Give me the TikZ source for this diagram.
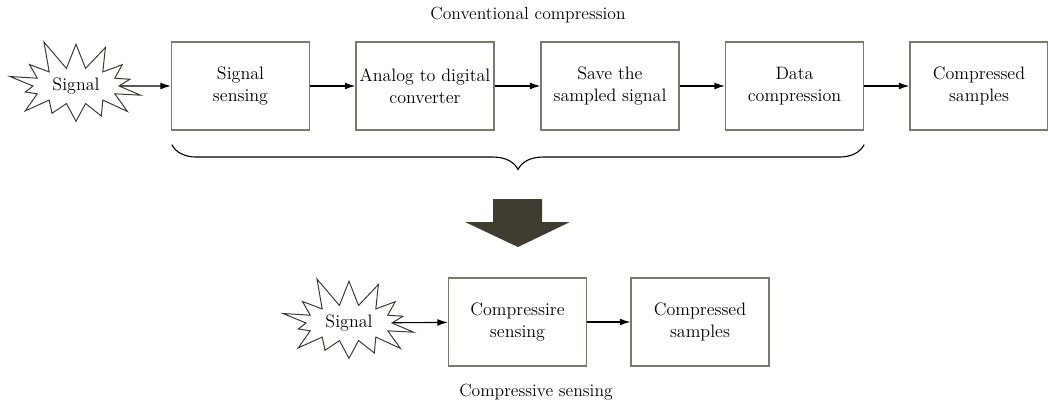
\documentclass[tikz,border=0pt]{standalone}
\usepackage{tikz}
\usetikzlibrary{positioning,arrows.meta,calc,shapes.symbols,decorations.pathreplacing}
\definecolor{boxgray}{RGB}{122,122,108}
\definecolor{burstline}{RGB}{58,58,48}
\definecolor{bigarrow}{RGB}{64,61,48}

\begin{document}
\begin{tikzpicture}[>={Latex[length=2.6mm,width=1.7mm]}, x=0.025cm, y=-0.025cm,
    blk/.style={draw=boxgray,line width=0.9pt,align=center,font=\fontsize{12.8}{15.6}\selectfont,
               minimum width=3.45cm,minimum height=2.2cm,inner sep=0pt},
    burst/.style={starburst,draw=burstline,line width=0.7pt,starburst points=14,
               starburst point height=0.8cm,random starburst=11,
               minimum width=3.75cm,minimum height=2.5cm,inner sep=0pt,
               font=\fontsize{12.8}{15.6}\selectfont},
    lbl/.style={font=\fontsize{12.5}{15}\selectfont},
    link/.style={->,line width=0.8pt}]
  \useasboundingbox (0,0) rectangle (1048,403);
  % conventional chain
  \node[lbl] (ttl) at (528,15) {Conventional compression};
  \node[burst] (sig1) at (76,86) {Signal};
  \node[blk] (b1) at (240.5,86) {Signal\\sensing};
  \node[blk] (b2) at (425,86)   {Analog to digital\\converter};
  \node[blk] (b3) at (610,86)   {Save the\\sampled signal};
  \node[blk] (b4) at (794.5,86) {Data\\compression};
  \node[blk] (b5) at (979,86)   {Compressed\\samples};
  \foreach \a/\b in {sig1/b1,b1/b2,b2/b3,b3/b4,b4/b5} \draw[link] (\a)--(\b);
  \draw[decorate,decoration={brace,mirror,amplitude=0.62cm},line width=0.8pt]
    ($(b1.south west)+(1,14)$)--($(b4.south east)+(0,14)$);
  % big arrow
  \fill[bigarrow] (493,199)--(542,199)--(542,222)--(570,222)--(518,247)--(465,222)--(493,222)--cycle;
  % compressive sensing
  \node[burst] (sig2) at (349,323) {Signal};
  \node[blk] (c1) at (517.5,322) {Compressire\\sensing};
  \node[blk] (c2) at (700,322)   {Compressed\\samples};
  \foreach \a/\b in {sig2/c1,c1/c2} \draw[link] (\a)--(\b);
  \node[lbl] (cap) at (536,392) {Compressive sensing};
\end{tikzpicture}
\end{document}
